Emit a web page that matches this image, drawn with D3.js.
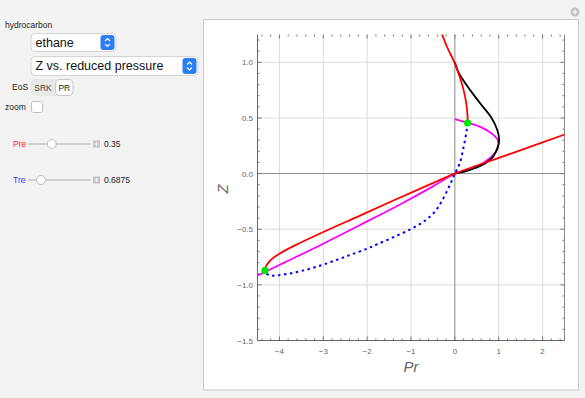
<!doctype html>
<html lang="en">
<head>
<meta charset="utf-8" />
<script src="https://cdn.jsdelivr.net/npm/d3@7"></script>
<style>
  body { margin: 0; background: #f3f3f3; }
  svg { display: block; font-family: "Liberation Sans", Arial, sans-serif; }
</style>
</head>
<body>
<svg id="main" width="585" height="398"></svg>
<script>
// curves, as [Pr, Z]
const blackCurve = [[0, 1.0], [0.06, 0.93], [0.14, 0.87], [0.35, 0.75], [0.58, 0.63], [0.82, 0.51],
  [0.97, 0.39], [1.01, 0.30], [0.98, 0.24], [0.87, 0.15], [0.69, 0.09], [0.46, 0.05], [0.24, 0.02], [0, 0]];
const redUpper = [[-0.34, 1.3], [-0.18, 1.14], [-0.07, 1.05], [0, 0.99], [0.11, 0.87], [0.2, 0.75],
  [0.26, 0.63], [0.29, 0.51], [0.29, 0.455]];
const redLower = [[-4.33, -0.87], [-4.31, -0.835], [-4.25, -0.80], [-4.15, -0.76], [-4.0, -0.72],
  [-3.67, -0.65], [-3.0, -0.525], [-2.15, -0.375], [-1.39, -0.24], [-0.7, -0.12], [0, 0], [1.25, 0.175], [2.6, 0.365]];
const magentaCurve = [[0, 0.49], [0.27, 0.46], [0.58, 0.42], [0.84, 0.36], [0.98, 0.30], [0.96, 0.21],
  [0.8, 0.14], [0.5, 0.06], [0.2, 0.02], [0, 0], [-0.5, -0.115], [-1.24, -0.275], [-2.15, -0.46],
  [-3.0, -0.63], [-3.89, -0.80], [-4.6, -0.935]];
const blueCurve = [[0.29, 0.455], [0.27, 0.39], [0.2, 0.24], [0.11, 0.09], [0, 0], [-0.1, -0.09],
  [-0.26, -0.22], [-0.45, -0.34], [-0.71, -0.43], [-1.01, -0.5], [-1.39, -0.57], [-1.77, -0.635],
  [-2.0, -0.675], [-2.38, -0.73], [-2.76, -0.785], [-3.13, -0.835], [-3.5, -0.875], [-3.8, -0.9],
  [-4.05, -0.915], [-4.2, -0.915], [-4.33, -0.895]];
const greenPoints = [[0.29, 0.455], [-4.33, -0.87]];

const xMajor = [-4, -3, -2, -1, 0, 1, 2];
const yMajor = [-1.5, -1.0, -0.5, 0.0, 0.5, 1.0];
const yLabels = ['\u22121.5', '\u22121.0', '\u22120.5', '0.0', '0.5', '1.0'];

const svg = d3.select('#main');

// ---- controls on the left ----
const ctl = svg.append('g').style('font-size', '8.5px').attr('fill', '#222');
ctl.append('text').attr('x', 5).attr('y', 28).text('hydrocarbon');

function dropdown(x, y, w, h, label) {
  ctl.append('rect').attr('x', x + 0.5).attr('y', y + 0.5).attr('width', w).attr('height', h).attr('rx', 4)
    .attr('fill', '#fff').attr('stroke', '#d4d4d4');
  ctl.append('text').attr('x', x + 5).attr('y', y + h / 2 + 4.5).style('font-size', '12.5px').attr('fill', '#111').text(label);
  const bx = x + w - 15;
  const by = y + 2;
  ctl.append('rect').attr('x', bx).attr('y', by).attr('width', 14).attr('height', h - 3).attr('rx', 3).attr('fill', '#2b7df5');
  const cx = bx + 7;
  const cy = by + (h - 3) / 2;
  ctl.append('path').attr('d', `M${cx - 2.5},${cy - 1.5}L${cx},${cy - 4}L${cx + 2.5},${cy - 1.5}M${cx - 2.5},${cy + 1.5}L${cx},${cy + 4}L${cx + 2.5},${cy + 1.5}`)
    .attr('fill', 'none').attr('stroke', '#fff').attr('stroke-width', 1.2);
}
dropdown(30.5, 33, 85, 18, 'ethane');
dropdown(30.5, 56, 167, 19, 'Z vs. reduced pressure');

ctl.append('text').attr('x', 12).attr('y', 90).text('EoS');
ctl.append('rect').attr('x', 31).attr('y', 79).attr('width', 42).attr('height', 17).attr('rx', 4).attr('fill', '#e8e8e8');
ctl.append('rect').attr('x', 55.5).attr('y', 79.5).attr('width', 17.5).attr('height', 16).attr('rx', 4)
  .attr('fill', '#fff').attr('stroke', '#c8c8c8');
ctl.append('text').attr('x', 43).attr('y', 90.5).attr('text-anchor', 'middle').attr('fill', '#444').text('SRK');
ctl.append('text').attr('x', 64.3).attr('y', 90.5).attr('text-anchor', 'middle').attr('fill', '#222').text('PR');

ctl.append('text').attr('x', 5).attr('y', 110).text('zoom');
ctl.append('rect').attr('x', 31.5).attr('y', 101.5).attr('width', 11).attr('height', 11).attr('rx', 2)
  .attr('fill', '#fff').attr('stroke', '#c0c0c0');

function slider(y, label, color, knobX, value) {
  ctl.append('text').attr('x', 13).attr('y', y + 3).attr('fill', color).text(label);
  ctl.append('line').attr('x1', 29).attr('x2', 90).attr('y1', y).attr('y2', y)
    .attr('stroke', '#d0d0d0').attr('stroke-width', 2).attr('stroke-linecap', 'round');
  ctl.append('circle').attr('cx', knobX).attr('cy', y).attr('r', 4.5)
    .attr('fill', '#fff').attr('stroke', '#bdbdbd');
  ctl.append('rect').attr('x', 93).attr('y', y - 3.5).attr('width', 7).attr('height', 7).attr('fill', '#c4c4c4');
  ctl.append('path').attr('d', `M94.5,${y}H98.5M96.5,${y - 2}V${y + 2}`).attr('stroke', '#fff').attr('stroke-width', 1);
  ctl.append('text').attr('x', 104).attr('y', y + 3).text(value);
}
slider(144, 'Pre', '#ff1a1a', 51.7, '0.35');
slider(180, 'Tre', '#3333ff', 41, '0.6875');

// ---- output panel ----
svg.append('rect').attr('x', 203.5).attr('y', 19.5).attr('width', 375).attr('height', 370.5)
  .attr('fill', '#fff').attr('stroke', '#cacaca');
svg.append('circle').attr('cx', 575).attr('cy', 12).attr('r', 4.5).attr('fill', '#c2c2c2');
svg.append('path').attr('d', 'M572.5,12H577.5M575,9.5V14.5').attr('stroke', '#fff').attr('stroke-width', 1.2);

const x = d3.scaleLinear().domain([-4.5, 2.5]).range([257.5, 564.5]);
const y = d3.scaleLinear().domain([-1.5, 1.25]).range([340.5, 34.5]);
const [x0, x1] = x.range();
const [y0, y1] = y.range();

const plot = svg.append('g');

// grid
plot.append('g').selectAll('line').data(xMajor.filter(d => d !== 0)).join('line')
  .attr('x1', d => x(d)).attr('x2', d => x(d)).attr('y1', y1).attr('y2', y0)
  .attr('stroke', '#dcdcdc').attr('stroke-width', 1);
plot.append('g').selectAll('line').data(yMajor.filter(d => d !== 0 && d !== -1.5)).join('line')
  .attr('x1', x0).attr('x2', x1).attr('y1', d => y(d)).attr('y2', d => y(d))
  .attr('stroke', '#dcdcdc').attr('stroke-width', 1);
// axes through origin
plot.append('line').attr('x1', x(0)).attr('x2', x(0)).attr('y1', y1).attr('y2', y0).attr('stroke', '#8c8c8c');
plot.append('line').attr('x1', x0).attr('x2', x1).attr('y1', y(0)).attr('y2', y(0)).attr('stroke', '#8c8c8c');

// frame with inward ticks
const xMinor = d3.range(-44, 25, 2).map(d => d / 10).filter(d => !xMajor.includes(d));
const yMinor = d3.range(-14, 13).map(d => d / 10).filter(d => !yMajor.includes(d));
const tickG = plot.append('g').attr('stroke', '#777').attr('stroke-width', 1);
[[y0, -1], [y1, 1]].forEach(([yy, dir]) => {
  tickG.selectAll(null).data(xMajor).join('line')
    .attr('x1', d => x(d)).attr('x2', d => x(d)).attr('y1', yy).attr('y2', yy - dir * -4);
  tickG.selectAll(null).data(xMinor).join('line')
    .attr('x1', d => x(d)).attr('x2', d => x(d)).attr('y1', yy).attr('y2', yy - dir * -2);
});
[[x0, 1], [x1, -1]].forEach(([xx, dir]) => {
  tickG.selectAll(null).data(yMajor).join('line')
    .attr('y1', d => y(d)).attr('y2', d => y(d)).attr('x1', xx).attr('x2', xx + dir * 4);
  tickG.selectAll(null).data(yMinor).join('line')
    .attr('y1', d => y(d)).attr('y2', d => y(d)).attr('x1', xx).attr('x2', xx + dir * 2);
});
plot.append('line').attr('x1', x0).attr('x2', x0).attr('y1', y1).attr('y2', y0).attr('stroke', '#666');
plot.append('line').attr('x1', x0).attr('x2', x1).attr('y1', y0).attr('y2', y0).attr('stroke', '#666');
plot.append('line').attr('x1', x1).attr('x2', x1).attr('y1', y1).attr('y2', y0).attr('stroke', '#888');

// tick labels
const lab = plot.append('g').style('font-size', '8px').attr('fill', '#666');
lab.selectAll(null).data(xMajor).join('text')
  .attr('x', d => x(d)).attr('y', 353.5).attr('text-anchor', 'middle')
  .text(d => (d < 0 ? '\u2212' + Math.abs(d) : d));
lab.selectAll(null).data(yMajor).join('text')
  .attr('x', 253).attr('y', d => y(d) + 3).attr('text-anchor', 'end')
  .text((d, i) => yLabels[i]);

// axis labels
svg.append('text').attr('x', 411).attr('y', 372).attr('text-anchor', 'middle')
  .style('font-size', '15px').style('font-style', 'italic').attr('fill', '#666').text('Pr');
svg.append('text').attr('transform', 'translate(228,189) rotate(-90)').attr('text-anchor', 'middle')
  .style('font-size', '15px').style('font-style', 'italic').attr('fill', '#666').text('Z');

// curves
svg.append('clipPath').attr('id', 'clip').append('rect')
  .attr('x', x0).attr('y', y1).attr('width', x1 - x0).attr('height', y0 - y1);
const curves = svg.append('g').attr('clip-path', 'url(#clip)');
const line = d3.line().x(d => x(d[0])).y(d => y(d[1])).curve(d3.curveCatmullRom.alpha(0.5));

curves.append('path').attr('d', line(blueCurve)).attr('fill', 'none')
  .attr('stroke', '#0000ff').attr('stroke-width', 2).attr('stroke-dasharray', '2.5,3.5');
curves.append('path').attr('d', line(magentaCurve)).attr('fill', 'none')
  .attr('stroke', '#ff00ff').attr('stroke-width', 1.8);
curves.append('path').attr('d', line(blackCurve)).attr('fill', 'none')
  .attr('stroke', '#000').attr('stroke-width', 1.8);
curves.append('path').attr('d', line(redUpper)).attr('fill', 'none')
  .attr('stroke', '#ff0000').attr('stroke-width', 1.8);
curves.append('path').attr('d', line(redLower)).attr('fill', 'none')
  .attr('stroke', '#ff0000').attr('stroke-width', 1.8);
curves.selectAll('circle').data(greenPoints).join('circle')
  .attr('cx', d => x(d[0])).attr('cy', d => y(d[1])).attr('r', 3.6).attr('fill', '#00e600');
</script>
</body>
</html>
